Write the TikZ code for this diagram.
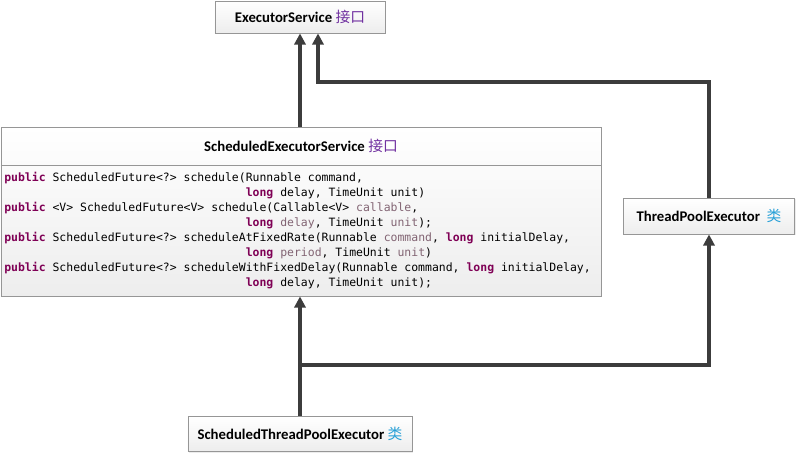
\documentclass[tikz,border=0pt]{standalone}
\usepackage{fontspec}
\setmainfont{Carlito}
\newfontfamily\cjkfont{Noto Sans CJK SC}
\newfontfamily\codefont{DejaVu Sans Mono}
\usetikzlibrary{arrows.meta,shadows}
\definecolor{kwpurple}{RGB}{127,0,85}
\definecolor{prmcol}{RGB}{130,100,115}
\definecolor{ifcol}{RGB}{112,48,160}
\definecolor{clscol}{RGB}{40,160,215}
\definecolor{edgecol}{RGB}{150,150,150}
\definecolor{linecol}{RGB}{60,60,60}
\newcommand{\kw}[1]{\textcolor{kwpurple}{\bfseries #1}}
\newcommand{\prm}[1]{\textcolor{prmcol}{#1}}
\newcommand{\ifc}{{\cjkfont\mdseries\color{ifcol}接口}}
\newcommand{\cls}{{\cjkfont\mdseries\color{clscol}类}}
\newcommand{\cont}{\phantom{public ScheduledFuture<?> schedule(}}
\begin{document}
\begin{tikzpicture}[x=0.025cm, y=-0.025cm,
	box/.style={shape=rectangle, draw=edgecol, line width=0.6pt, top color=white, bottom color=gray!14, drop shadow={shadow xshift=1pt, shadow yshift=-1pt, opacity=0.15}},
	title/.style={font=\bfseries\fontsize{10.5}{12}\selectfont, inner sep=0pt},
	code/.style={align=left, inner sep=0pt, font=\codefont\fontsize{8.15}{10.67}\selectfont},
	arr/.style={line width=2.3pt, draw=linecol, -{Triangle[length=8pt, width=8pt]}}]
	\useasboundingbox (0,0) rectangle (800,455);
	% boxes
	\node[box, minimum width=4.25cm, minimum height=0.8cm] (es) at (300,17) {};
	\node[title] (estitle) at (300,17) {ExecutorService \ifc};
	\node[box, minimum width=15cm, minimum height=4.225cm] (ses) at (301,211.5) {};
	\draw[draw=edgecol, line width=0.6pt] (ses.west |- 0,165) -- (ses.east |- 0,165);
	\node[title] (sestitle) at (301,146) {ScheduledExecutorService \ifc};
	\node[code, anchor=north west] (sescode) at (4,172) {\kw{public} ScheduledFuture<?> schedule(Runnable command,\\
\cont\kw{long} delay, TimeUnit unit)\\
\kw{public} <V> ScheduledFuture<V> schedule(Callable<V> \prm{callable},\\
\cont\kw{long} \prm{delay}, TimeUnit \prm{unit});\\
\kw{public} ScheduledFuture<?> scheduleAtFixedRate(Runnable \prm{command}, \kw{long} initialDelay,\\
\cont\kw{long} \prm{period}, TimeUnit \prm{unit})\\
\kw{public} ScheduledFuture<?> scheduleWithFixedDelay(Runnable command, \kw{long} initialDelay,\\
\cont\kw{long} delay, TimeUnit unit);};
	\node[box, minimum width=4.275cm, minimum height=0.9cm] (tpe) at (709,216) {};
	\node[title] (tpetitle) at (709,216) {ThreadPoolExecutor~ \cls};
	\node[box, minimum width=5.6cm, minimum height=0.875cm] (stpe) at (300,434) {};
	\node[title] (stpetitle) at (300,434) {ScheduledThreadPoolExecutor \cls};
	% inheritance
	\coordinate (bendtop) at (318,82);
	\coordinate (split) at (300,365);
	\draw[arr] (es.south |- ses.north) -- (es.south);
	\draw[arr] (tpe.north) |- (bendtop) -- (bendtop |- es.south);
	\draw[arr] (stpe.north) -- (stpe.north |- ses.south);
	\draw[arr] (split) -| (tpe.south);
\end{tikzpicture}
\end{document}
